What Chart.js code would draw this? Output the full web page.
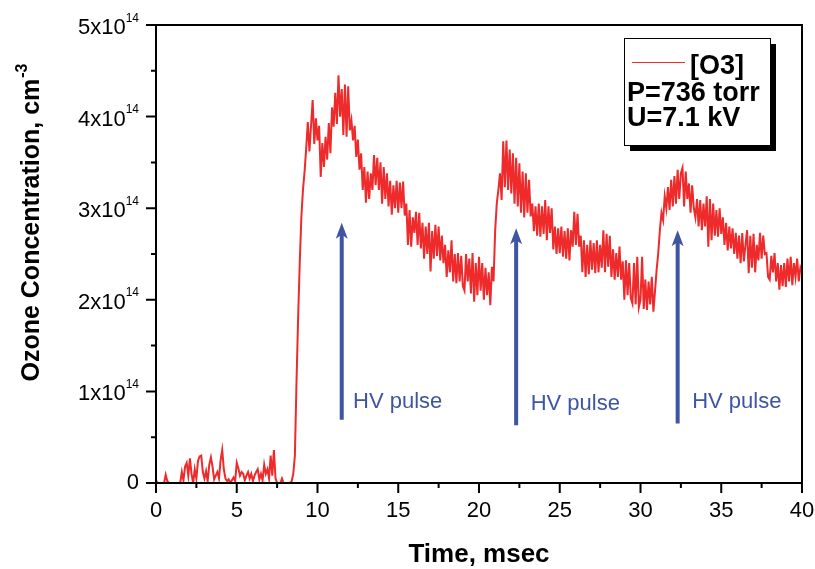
<!DOCTYPE html>
<html>
<head>
<meta charset="utf-8">
<script src="https://cdn.jsdelivr.net/npm/chart.js@4/dist/chart.umd.min.js"></script>
<style>
    body { margin: 0; background: #fff; }
</style>
</head>
<body>
<canvas id="ozone-chart" width="815" height="569"></canvas>
<script>
// ozone concentration in units of 1e14 cm^-3, one sample every 0.1 msec (0 .. 40 msec)
const sampleStep = 0.1;
const ozone = [
    0.03, 0, 0, 0, 0, 0, 0.09, 0.02, 0, 0,
    0, 0, 0, 0, 0, 0, 0.12, 0.03, 0.18, 0.22,
    0.08, 0.27, 0.1, 0, 0.15, 0.05, 0.24, 0.29, 0.3, 0.12,
    0.05, 0.13, 0.02, 0.2, 0.28, 0.18, 0.04, 0.08, 0.12, 0.05,
    0.25, 0.36, 0.15, 0.05, 0.02, 0.04, 0, 0.03, 0.06, 0.02,
    0.22, 0.16, 0.08, 0.12, 0.1, 0.03, 0.08, 0.12, 0.05, 0.1,
    0.02, 0.08, 0.12, 0.15, 0.04, 0.1, 0.03, 0.2, 0.1, 0.15,
    0.05, 0.3, 0.08, 0.36, 0.05, 0, 0, 0, 0.05, 0,
    0, 0, 0, 0, 0.02, 0.1, 0.3, 1.1, 1.8, 2.4,
    2.9, 3.2, 3.4, 3.65, 3.94, 3.62, 3.9, 4.18, 3.7, 3.98,
    3.74, 3.9, 3.34, 3.71, 3.45, 3.78, 3.53, 3.93, 3.6, 4.1,
    3.89, 4.26, 3.92, 4.45, 4.0, 4.3, 3.8, 4.35, 3.78, 4.33,
    3.85, 3.96, 3.74, 3.9, 3.56, 3.75, 3.42, 3.6, 3.2, 3.45,
    3.06, 3.4, 3.1, 3.38, 3.2, 3.58, 3.25, 3.55, 3.2, 3.5,
    3.05, 3.45, 3.1, 3.38, 3.02, 3.3, 2.93, 3.25, 3.0, 3.3,
    2.95, 3.28, 3.0, 3.29, 2.92, 3.05, 2.6, 2.98, 2.58, 2.9,
    2.73, 2.96, 2.6, 2.95, 2.56, 2.84, 2.45, 2.8, 2.5, 2.84,
    2.31, 2.75, 2.45, 2.82, 2.48, 2.8, 2.43, 2.7, 2.4, 2.6,
    2.25, 2.54, 2.3, 2.65, 2.2, 2.5, 2.18, 2.51, 2.2, 2.48,
    2.15, 2.1, 2.5, 2.2, 2.45, 2.07, 2.51, 1.98, 2.4, 2.05,
    2.47, 2.1, 2.4, 2.0, 2.35, 2.05, 2.3, 1.94, 2.36, 2.2,
    2.75, 3.05, 3.2, 3.38, 3.09, 3.73, 3.23, 3.74, 3.2, 3.64,
    3.16, 3.6, 3.05, 3.55, 3.02, 3.49, 2.95, 3.4, 2.9, 3.38,
    2.95, 3.31, 2.91, 3.05, 2.75, 3.02, 2.7, 3.05, 2.69, 3.02,
    2.72, 3.09, 2.65, 3.02, 2.73, 3.0, 2.55, 2.8, 2.5, 2.78,
    2.51, 2.8, 2.47, 2.75, 2.45, 2.78, 2.43, 2.76, 2.58, 2.96,
    2.6, 2.94, 2.58, 2.7, 2.3, 2.65, 2.25, 2.6, 2.28, 2.65,
    2.33, 2.62, 2.29, 2.65, 2.3, 2.6, 2.35, 2.76, 2.3, 2.72,
    2.36, 2.7, 2.25, 2.55, 2.22, 2.51, 2.25, 2.58, 2.22, 2.42,
    2.0, 2.43, 2.05, 2.4, 2.02, 1.96, 2.4, 1.95, 2.47, 1.92,
    2.0, 2.47, 1.9, 2.22, 1.89, 2.2, 1.95, 2.25, 1.87, 2.1,
    2.33, 2.51, 2.76, 2.95, 2.87, 3.13, 3.0, 3.23, 2.98, 3.31,
    3.02, 3.35, 3.05, 3.42, 3.1, 3.38, 3.44, 3.02, 3.4, 3.1,
    3.27, 2.95, 3.25, 3.0, 2.9, 3.1, 2.8, 3.09, 2.76, 3.05,
    2.8, 3.13, 2.58, 3.1, 2.65, 3.05, 2.7, 2.98, 2.69, 3.0,
    2.72, 2.9, 2.6, 2.84, 2.54, 2.8, 2.56, 2.78, 2.5, 2.73,
    2.45, 2.7, 2.4, 2.73, 2.42, 2.6, 2.76, 2.29, 2.7, 2.35,
    2.72, 2.3, 2.6, 2.43, 2.73, 2.45, 2.7, 2.5, 2.51, 2.25,
    2.22, 2.48, 2.3, 2.51, 2.2, 2.4, 2.11, 2.38, 2.15, 2.4,
    2.14, 2.45, 2.2, 2.47, 2.16, 2.4, 2.25, 2.45, 2.2, 2.35,
    2.3
];

const xMajorTicks = [0, 5, 10, 15, 20, 25, 30, 35, 40];
const xMinorTicks = [2.5, 7.5, 12.5, 17.5, 22.5, 27.5, 32.5, 37.5];
const yMajorTicks = [0, 1, 2, 3, 4, 5];
const yMinorTicks = [0.5, 1.5, 2.5, 3.5, 4.5];

// HV pulse arrows (msec, 1e14 cm^-3)
const pulseTimes = [11.5, 22.3, 32.3];
const pulseTops = [2.84, 2.78, 2.76];
const pulseBottoms = [0.69, 0.63, 0.65];
const pulseLabelTimes = [12.2, 23.2, 33.2];
const pulseLabelLevels = [0.88, 0.86, 0.88];
const pulseLabel = 'HV pulse';

const legendNotes = ['P=736 torr', 'U=7.1 kV'];

const RED = '#ee2a2a';
const BLUE = '#3e55a4';
const FONT = '"Liberation Sans", Arial, sans-serif';

function drawPower(ctx, base, sup, x, y, size, supSize, align) {
    ctx.font = size + 'px ' + FONT;
    const wb = ctx.measureText(base).width;
    ctx.font = supSize + 'px ' + FONT;
    const ws = ctx.measureText(sup).width;
    const left = align === 'right' ? x - wb - ws : x;
    ctx.textAlign = 'left';
    ctx.textBaseline = 'alphabetic';
    ctx.font = size + 'px ' + FONT;
    ctx.fillText(base, left, y);
    ctx.font = supSize + 'px ' + FONT;
    ctx.fillText(sup, left + wb, y - 12.5);
}

const decorations = {
    id: 'decorations',
    afterDatasetsDraw(chart) {
        const { ctx, chartArea: a, scales: { x, y } } = chart;
        ctx.save();
        ctx.fillStyle = '#000';
        ctx.strokeStyle = '#000';

        // frame
        ctx.lineWidth = 2;
        ctx.strokeRect(a.left, a.top, a.right - a.left, a.bottom - a.top);

        // ticks
        ctx.beginPath();
        xMajorTicks.forEach(t => { const px = x.getPixelForValue(t); ctx.moveTo(px, a.bottom); ctx.lineTo(px, a.bottom + 10); });
        xMinorTicks.forEach(t => { const px = x.getPixelForValue(t); ctx.moveTo(px, a.bottom); ctx.lineTo(px, a.bottom + 5); });
        yMajorTicks.forEach(v => { const py = y.getPixelForValue(v); ctx.moveTo(a.left, py); ctx.lineTo(a.left - 10, py); });
        yMinorTicks.forEach(v => { const py = y.getPixelForValue(v); ctx.moveTo(a.left, py); ctx.lineTo(a.left - 5, py); });
        ctx.stroke();

        // tick labels
        ctx.font = '22px ' + FONT;
        ctx.textAlign = 'center';
        ctx.textBaseline = 'alphabetic';
        xMajorTicks.forEach(t => ctx.fillText(String(t), x.getPixelForValue(t), a.bottom + 34));
        yMajorTicks.forEach(v => {
            const py = y.getPixelForValue(v);
            if (v === 0) {
                ctx.font = '22px ' + FONT;
                ctx.textAlign = 'right';
                ctx.fillText('0', a.left - 17, py + 6);
            } else {
                drawPower(ctx, v + 'x10', '14', a.left - 17, py + 9, 22, 12, 'right');
            }
        });

        // axis titles
        ctx.font = 'bold 26px ' + FONT;
        ctx.textAlign = 'center';
        ctx.fillText('Time, msec', (a.left + a.right) / 2, 562);

        ctx.save();
        ctx.translate(39, 223);
        ctx.rotate(-Math.PI / 2);
        ctx.font = 'bold 25px ' + FONT;
        const wt = ctx.measureText('Ozone Concentration, cm').width;
        ctx.font = 'bold 16px ' + FONT;
        const ws = ctx.measureText('-3').width;
        const start = -(wt + ws) / 2;
        ctx.textAlign = 'left';
        ctx.font = 'bold 25px ' + FONT;
        ctx.fillText('Ozone Concentration, cm', start, 0);
        ctx.font = 'bold 16px ' + FONT;
        ctx.fillText('-3', start + wt + 1, -12);
        ctx.restore();

        // HV pulse arrows
        ctx.strokeStyle = BLUE;
        ctx.fillStyle = BLUE;
        pulseTimes.forEach((t, i) => {
            const px = x.getPixelForValue(t);
            const top = y.getPixelForValue(pulseTops[i]);
            const bottom = y.getPixelForValue(pulseBottoms[i]);
            ctx.lineWidth = 4;
            ctx.beginPath();
            ctx.moveTo(px, bottom);
            ctx.lineTo(px, top + 10);
            ctx.stroke();
            ctx.beginPath();
            ctx.moveTo(px, top);
            ctx.lineTo(px + 6, top + 16);
            ctx.lineTo(px, top + 12);
            ctx.lineTo(px - 6, top + 16);
            ctx.closePath();
            ctx.fill();

            ctx.font = '22px ' + FONT;
            ctx.textAlign = 'left';
            ctx.textBaseline = 'middle';
            ctx.fillText(pulseLabel, x.getPixelForValue(pulseLabelTimes[i]), y.getPixelForValue(pulseLabelLevels[i]));
        });

        // legend box with shadow
        const bx = 624, by = 38, bw = 146, bh = 107;
        ctx.fillStyle = '#000';
        ctx.fillRect(bx + 6, by + 6, bw, bh);
        ctx.fillStyle = '#fff';
        ctx.fillRect(bx, by, bw, bh);
        ctx.strokeStyle = '#000';
        ctx.lineWidth = 1;
        ctx.strokeRect(bx + 0.5, by + 0.5, bw, bh);

        const ds = chart.data.datasets[0];
        ctx.strokeStyle = ds.borderColor;
        ctx.beginPath();
        ctx.moveTo(632, 62.5);
        ctx.lineTo(685, 62.5);
        ctx.stroke();

        ctx.fillStyle = '#000';
        ctx.font = 'bold 27px ' + FONT;
        ctx.textAlign = 'left';
        ctx.textBaseline = 'alphabetic';
        ctx.fillText(ds.label, 690, 74);
        legendNotes.forEach((s, i) => ctx.fillText(s, 627, 101 + i * 25));

        ctx.restore();
    }
};

document.addEventListener('DOMContentLoaded', () => {
    const ctx = document.getElementById('ozone-chart');
    new Chart(ctx, {
        type: 'line',
        data: {
            datasets: [{
                label: '[O3]',
                data: ozone.map((v, i) => ({ x: +(i * sampleStep).toFixed(2), y: v })),
                borderColor: RED,
                borderWidth: 2,
                pointRadius: 0,
                tension: 0,
                fill: false
            }]
        },
        options: {
            responsive: false,
            animation: false,
            layout: { padding: { left: 156, top: 25, right: 13, bottom: 86 } },
            scales: {
                x: { type: 'linear', min: 0, max: 40, display: false },
                y: { min: 0, max: 5, display: false }
            },
            plugins: {
                legend: { display: false },
                tooltip: { enabled: false }
            }
        },
        plugins: [decorations]
    });
});
</script>
</body>
</html>
